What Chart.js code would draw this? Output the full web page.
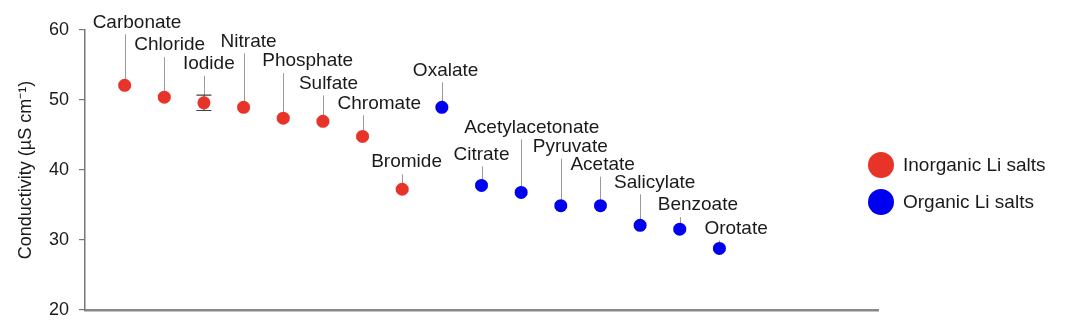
<!DOCTYPE html>
<html>
<head>
<meta charset="utf-8">
<script src="https://cdn.jsdelivr.net/npm/chart.js@4.4.1/dist/chart.umd.min.js"></script>
<style>
  html, body { margin: 0; padding: 0; background: #fff; }
  #wrap { width: 1080px; height: 328px; }
</style>
</head>
<body>
<div id="wrap"><canvas id="myChart" width="1080" height="328"></canvas></div>
<script>
// salts, in the order they sit along the axis
const salts = ['Carbonate', 'Chloride', 'Iodide', 'Nitrate', 'Phosphate', 'Sulfate', 'Chromate', 'Bromide',
  'Oxalate', 'Citrate', 'Acetylacetonate', 'Pyruvate', 'Acetate', 'Salicylate', 'Benzoate', 'Orotate'];
const saltGroup = ['Inorganic', 'Inorganic', 'Inorganic', 'Inorganic', 'Inorganic', 'Inorganic', 'Inorganic', 'Inorganic',
  'Organic', 'Organic', 'Organic', 'Organic', 'Organic', 'Organic', 'Organic', 'Organic'];
// conductivity, µS cm-1
const conductivity = [52.1, 50.4, 49.6, 48.95, 47.4, 46.95, 44.8, 37.25,
  48.95, 37.8, 36.8, 34.9, 34.9, 32.1, 31.55, 28.8];
const errors = [0.3, 0.3, 1.1, 0.3, 0.3, 0.3, 0.3, 0.3,
  0.3, 0.3, 0.3, 0.3, 0.3, 0.3, 0.3, 0.3];
const yTicks = [20, 30, 40, 50, 60];

// label placement (pixels): height of text above point, left offset of text
const labelLift = [63, 52, 39, 66, 57, 38, 33, 27, 37, 31, 65, 59, 41, 43, 24, 20];
const labelShift = [-32, -30, -21, -23, -21, -24, -25, -31, -29, -28, -57, -28, -30, -26, -22, -15];

const RED = 'rgb(232, 52, 40)';
const BLUE = 'rgb(0, 0, 240)';
const FONT = '"Liberation Sans", Arial, Helvetica, sans-serif';
Chart.defaults.font.family = FONT;
Chart.defaults.color = '#1a1a1a';

const makeSet = (group, label, color) => ({
  label: label,
  data: salts.map((s, i) => ({ x: i + 1, y: conductivity[i], name: s, err: errors[i], idx: i }))
    .filter((p, i) => saltGroup[i] === group),
  backgroundColor: color,
  borderColor: color,
  borderWidth: 0,
  pointRadius: 6.5,
  pointHoverRadius: 6.5
});

// error bars + leader lines under the dots
const underDots = {
  id: 'underDots',
  beforeDatasetsDraw(chart) {
    const ctx = chart.ctx;
    const y = chart.scales.y;
    ctx.save();
    chart.data.datasets.forEach((ds, d) => {
      chart.getDatasetMeta(d).data.forEach((el, k) => {
        const p = ds.data[k];
        const top = y.getPixelForValue(p.y + p.err);
        const bot = y.getPixelForValue(p.y - p.err);
        // leader line
        ctx.strokeStyle = '#9a9a9a';
        ctx.lineWidth = 1;
        ctx.beginPath();
        ctx.moveTo(Math.round(el.x) + 0.5, el.y - labelLift[p.idx] + 12);
        ctx.lineTo(Math.round(el.x) + 0.5, Math.min(top, el.y - 6));
        ctx.stroke();
        // error bar
        const big = p.err > 0.6;
        ctx.strokeStyle = big ? '#444' : '#999';
        ctx.lineWidth = big ? 1.2 : 0.8;
        const cap = big ? 7.5 : 6.5;
        ctx.beginPath();
        ctx.moveTo(el.x, top); ctx.lineTo(el.x, bot);
        ctx.moveTo(el.x - cap, top); ctx.lineTo(el.x + cap, top);
        ctx.moveTo(el.x - cap, bot); ctx.lineTo(el.x + cap, bot);
        ctx.stroke();
      });
    });
    ctx.restore();
  }
};

// salt names + legend
const overDots = {
  id: 'overDots',
  afterDraw(chart) {
    const ctx = chart.ctx;
    ctx.save();
    ctx.font = '19px ' + FONT;
    ctx.fillStyle = '#1a1a1a';
    ctx.textAlign = 'left';
    ctx.textBaseline = 'middle';
    chart.data.datasets.forEach((ds, d) => {
      chart.getDatasetMeta(d).data.forEach((el, k) => {
        const p = ds.data[k];
        ctx.fillText(p.name, el.x + labelShift[p.idx], el.y - labelLift[p.idx]);
      });
    });
    // legend
    const lx = 881, ly = 165, gap = 37;
    chart.data.datasets.forEach((ds, d) => {
      ctx.fillStyle = ds.backgroundColor;
      ctx.beginPath();
      ctx.arc(lx, ly + d * gap, 13, 0, Math.PI * 2);
      ctx.fill();
      ctx.fillStyle = '#1a1a1a';
      ctx.fillText(ds.label, lx + 22, ly + d * gap + 1);
    });
    ctx.restore();
  }
};

const ctx = document.getElementById('myChart');

new Chart(ctx, {
  type: 'scatter',
  data: {
    datasets: [
      makeSet('Inorganic', 'Inorganic Li salts', RED),
      makeSet('Organic', 'Organic Li salts', BLUE)
    ]
  },
  options: {
    responsive: false,
    animation: false,
    events: [],
    layout: {
      padding: { left: 0, right: 202, top: 30, bottom: 18 }
    },
    plugins: {
      legend: { display: false },
      tooltip: { enabled: false }
    },
    scales: {
      x: {
        type: 'linear',
        min: 0,
        max: 20,
        ticks: { display: false },
        grid: { display: false },
        border: { display: true, color: '#888', width: 2.5 },
        afterFit: scale => { scale.height = 0; }
      },
      y: {
        min: 20,
        max: 60,
        afterBuildTicks: scale => { scale.ticks = yTicks.map(v => ({ value: v })); },
        ticks: {
          font: { size: 18 },
          color: '#1a1a1a',
          padding: 10
        },
        grid: {
          display: true,
          drawOnChartArea: false,
          drawTicks: true,
          tickLength: 6,
          color: '#777',
          lineWidth: 1.2
        },
        border: { display: true, color: '#777', width: 1.5 },
        title: {
          display: true,
          text: 'Conductivity (µS cm⁻¹)',
          font: { size: 18 },
          color: '#1a1a1a',
          padding: { top: 15, bottom: 0 }
        },
        afterFit: scale => {
          scale.width = 85;
          scale.paddingTop = 0;
          scale.paddingBottom = 0;
        }
      }
    }
  },
  plugins: [underDots, overDots]
});
</script>
</body>
</html>
